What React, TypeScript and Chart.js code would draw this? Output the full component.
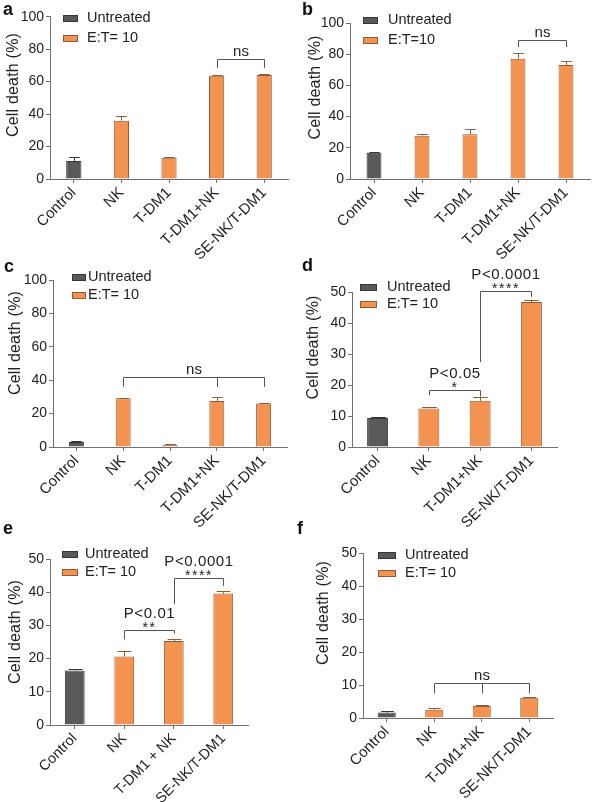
import React, { useEffect, useRef } from 'react';
import { Chart, registerables } from 'chart.js';

Chart.register(...registerables);

const FONT = "'Liberation Sans', Arial, Helvetica, sans-serif";
Chart.defaults.font.family = FONT;

// ---------- data ----------
const catsABC = ['Control', 'NK', 'T-DM1', 'T-DM1+NK', 'SE-NK/T-DM1'];
const catsD = ['Control', 'NK', 'T-DM1+NK', 'SE-NK/T-DM1'];
const catsE = ['Control', 'NK', 'T-DM1 + NK', 'SE-NK/T-DM1'];
const catsF = ['Control', 'NK', 'T-DM1+NK', 'SE-NK/T-DM1'];

const namesDefault = ['Untreated', 'E:T= 10'];
const namesB = ['Untreated', 'E:T=10'];
const yTitle = 'Cell death (%)';

const aUntreated = [11.1, null, null, null, null];
const aEffector = [null, 35.9, 13.1, 63.6, 64.1];
const aErr = [2.7, 3.1, 0.3, 0.2, 0.6];

const bUntreated = [16.8, null, null, null, null];
const bEffector = [null, 27.8, 28.7, 77.1, 73.0];
const bErr = [0.3, 1.1, 3.2, 3.6, 2.4];

const cUntreated = [3.0, null, null, null, null];
const cEffector = [null, 29.2, 1.2, 27.6, 26.0];
const cErr = [0.6, 0.4, 0.4, 2.4, 0.6];

const dUntreated = [9.35, null, null, null];
const dEffector = [null, 12.4, 14.9, 46.8];
const dErr = [0.2, 0.5, 1.1, 0.7];

const eUntreated = [16.4, null, null, null];
const eEffector = [null, 20.6, 25.3, 39.6];
const eErr = [0.5, 1.6, 0.7, 0.7];

const fUntreated = [1.7, null, null, null];
const fEffector = [null, 2.5, 3.6, 6.1];
const fErr = [0.3, 0.5, 0.2, 0.2];

const yMax100 = 100;
const yStep20 = 20;
const yMax50 = 50;
const yStep10 = 10;

type Bracket = { from: number; to: number; mids?: number[]; level: number; dropFrom: number; dropTo: number; labels: string[] };

const aBrackets: Bracket[] = [{ from: 3, to: 4, level: 73.7, dropFrom: 68.5, dropTo: 68.5, labels: ['ns'] }];
const bBrackets: Bracket[] = [{ from: 3, to: 4, level: 88.9, dropFrom: 84.6, dropTo: 84.6, labels: ['ns'] }];
const cBrackets: Bracket[] = [{ from: 1, to: 4, mids: [3], level: 42, dropFrom: 36, dropTo: 36, labels: ['ns'] }];
const dBrackets: Bracket[] = [
  { from: 1, to: 2, level: 18.5, dropFrom: 16.7, dropTo: 16.3, labels: ['*', 'P<0.05'] },
  { from: 2, to: 3, level: 50.2, dropFrom: 27.4, dropTo: 48.4, labels: ['****', 'P<0.0001'] },
];
const eBrackets: Bracket[] = [
  { from: 1, to: 2, level: 28.6, dropFrom: 25.8, dropTo: 27.5, labels: ['**', 'P<0.01'] },
  { from: 2, to: 3, level: 44.4, dropFrom: 36.4, dropTo: 41.9, labels: ['****', 'P<0.0001'] },
];
const fBrackets: Bracket[] = [{ from: 1, to: 3, mids: [2], level: 10.6, dropFrom: 7.4, dropTo: 7.4, labels: ['ns'] }];

// ---------- styles / layout ----------
const GRAY = '#58595b';
const GRAY_EDGE = '#363636';
const ORANGE = '#f4934f';
const ORANGE_EDGE = '#8a5c3e';
const AXIS = '#707070';
const TEXT = '#222222';

type PanelData = {
  cats: string[]; names: string[]; untreated: (number | null)[]; effector: (number | null)[];
  err: number[]; yMax: number; yStep: number; brackets: Bracket[];
};
type PanelLayout = {
  left: number; top: number; w: number; h: number;
  yWidth: number; padTop: number; padRight: number; xHeight: number; barPct: number; xFont: number;
  title: [number, number];
  legend: { x: number; y: number; gap: number; sw: number; textX: number };
  letter: string; letterX: number; letterBase: number;
};

const panels: { pd: PanelData; lay: PanelLayout }[] = [
  {
    pd: { cats: catsABC, names: namesDefault, untreated: aUntreated, effector: aEffector, err: aErr, yMax: yMax100, yStep: yStep20, brackets: aBrackets },
    lay: { left: 0, top: 0, w: 300, h: 300, yWidth: 50, padTop: 16.7, padRight: 12, xHeight: 121, barPct: 0.32, xFont: 15,
      title: [14, 85], legend: { x: 63, y: 18, gap: 20, sw: 15, textX: 87 }, letter: 'a', letterX: 3, letterBase: 15 },
  },
  {
    pd: { cats: catsABC, names: namesB, untreated: bUntreated, effector: bEffector, err: bErr, yMax: yMax100, yStep: yStep20, brackets: bBrackets },
    lay: { left: 300, top: 0, w: 300, h: 300, yWidth: 50, padTop: 23, padRight: 10, xHeight: 121, barPct: 0.31, xFont: 15,
      title: [15.5, 87.5], legend: { x: 63, y: 20, gap: 20, sw: 15, textX: 88 }, letter: 'b', letterX: 302, letterBase: 15 },
  },
  {
    pd: { cats: catsABC, names: namesDefault, untreated: cUntreated, effector: cEffector, err: cErr, yMax: yMax100, yStep: yStep20, brackets: cBrackets },
    lay: { left: 0, top: 255, w: 300, h: 290, yWidth: 53, padTop: 25, padRight: 13, xHeight: 98, barPct: 0.32, xFont: 15,
      title: [15.5, 88], legend: { x: 72, y: 22, gap: 18.3, sw: 14, textX: 88 }, letter: 'c', letterX: 4, letterBase: 272 },
  },
  {
    pd: { cats: catsD, names: namesDefault, untreated: dUntreated, effector: dEffector, err: dErr, yMax: yMax50, yStep: yStep10, brackets: dBrackets },
    lay: { left: 300, top: 255, w: 300, h: 290, yWidth: 52, padTop: 37, padRight: 43, xHeight: 98, barPct: 0.41, xFont: 15,
      title: [13.7, 92.5], legend: { x: 60, y: 32, gap: 17, sw: 17, textX: 87 }, letter: 'd', letterX: 302, letterBase: 271 },
  },
  {
    pd: { cats: catsE, names: namesDefault, untreated: eUntreated, effector: eEffector, err: eErr, yMax: yMax50, yStep: yStep10, brackets: eBrackets },
    lay: { left: 0, top: 520, w: 300, h: 282, yWidth: 50, padTop: 39, padRight: 52, xHeight: 77, barPct: 0.4, xFont: 14.5,
      title: [15.3, 112], legend: { x: 62, y: 34, gap: 18, sw: 16, textX: 85 }, letter: 'e', letterX: 3, letterBase: 534 },
  },
  {
    pd: { cats: catsF, names: namesDefault, untreated: fUntreated, effector: fEffector, err: fErr, yMax: yMax50, yStep: yStep10, brackets: fBrackets },
    lay: { left: 300, top: 520, w: 300, h: 282, yWidth: 63, padTop: 33, padRight: 47, xHeight: 84, barPct: 0.38, xFont: 15,
      title: [24, 93], legend: { x: 78, y: 35, gap: 18, sw: 18, textX: 105 }, letter: 'f', letterX: 297, letterBase: 534 },
  },
];

function setSpacing(ctx: any, v: string) {
  if ('letterSpacing' in ctx) ctx.letterSpacing = v;
}

function overlayPlugin(pd: PanelData, lay: PanelLayout) {
  return {
    id: 'overlay',
    afterDatasetsDraw(chart: any) {
      const ctx = chart.ctx as CanvasRenderingContext2D;
      const xs = chart.scales.x;
      const ys = chart.scales.y;
      ctx.save();
      ctx.lineWidth = 1;
      // error bars (upper only)
      chart.data.datasets.forEach((ds: any, di: number) => {
        const meta = chart.getDatasetMeta(di);
        meta.data.forEach((bar: any, j: number) => {
          const v = ds.data[j];
          if (v == null) return;
          const e = pd.err[j] || 0;
          const x = Math.round(bar.x) + 0.5;
          const yTop = Math.round(ys.getPixelForValue(v + e)) + 0.5;
          const yVal = ys.getPixelForValue(v);
          const half = (bar.width * 0.7) / 2;
          ctx.strokeStyle = ds.borderColor;
          ctx.beginPath();
          ctx.moveTo(x, yVal);
          ctx.lineTo(x, yTop);
          ctx.moveTo(x - half, yTop);
          ctx.lineTo(x + half, yTop);
          ctx.stroke();
        });
      });
      // significance brackets
      pd.brackets.forEach((b) => {
        const xa = Math.round(xs.getPixelForValue(b.from)) + 0.5;
        const xb = Math.round(xs.getPixelForValue(b.to)) + 0.5;
        const yl = Math.round(ys.getPixelForValue(b.level)) + 0.5;
        ctx.strokeStyle = '#555555';
        ctx.beginPath();
        ctx.moveTo(xa, ys.getPixelForValue(b.dropFrom));
        ctx.lineTo(xa, yl);
        ctx.lineTo(xb, yl);
        ctx.lineTo(xb, ys.getPixelForValue(b.dropTo));
        (b.mids || []).forEach((m) => {
          const xm = Math.round(xs.getPixelForValue(m)) + 0.5;
          ctx.moveTo(xm, yl);
          ctx.lineTo(xm, ys.getPixelForValue(b.dropFrom));
        });
        ctx.stroke();
        const cx = (xa + xb) / 2;
        ctx.fillStyle = TEXT;
        ctx.textAlign = 'center';
        ctx.textBaseline = 'alphabetic';
        b.labels.forEach((lbl) => {
          if (/^\*+$/.test(lbl)) {
            ctx.font = `14px ${FONT}`;
            setSpacing(ctx, '1.5px');
            ctx.fillText(lbl, cx, yl + 1.5);
          } else if (lbl === 'ns') {
            ctx.font = `15px ${FONT}`;
            setSpacing(ctx, '0px');
            ctx.fillText(lbl, cx, yl - 4);
          } else {
            ctx.font = `15px ${FONT}`;
            setSpacing(ctx, '0.6px');
            ctx.fillText(lbl, cx, yl - 12.5);
          }
        });
      });
      setSpacing(ctx, '0px');
      // legend
      const L = lay.legend;
      chart.data.datasets.forEach((ds: any, i: number) => {
        const ry = L.y + i * L.gap;
        ctx.fillStyle = ds.backgroundColor;
        ctx.fillRect(L.x, Math.round(ry - 3.5), L.sw, 7);
        ctx.strokeStyle = ds.borderColor;
        ctx.strokeRect(L.x + 0.5, Math.round(ry - 3.5) + 0.5, L.sw - 1, 6);
        ctx.fillStyle = TEXT;
        ctx.font = `14.5px ${FONT}`;
        ctx.textAlign = 'left';
        ctx.textBaseline = 'middle';
        ctx.fillText(ds.label, L.textX, ry);
      });
      // y axis title
      ctx.save();
      ctx.translate(lay.title[0], lay.title[1]);
      ctx.rotate(-Math.PI / 2);
      ctx.fillStyle = TEXT;
      ctx.font = `16px ${FONT}`;
      setSpacing(ctx, '0.2px');
      ctx.textAlign = 'center';
      ctx.textBaseline = 'middle';
      ctx.fillText(yTitle, 0, 0);
      ctx.restore();
      ctx.restore();
    },
  };
}

function Panel({ pd, lay }: { pd: PanelData; lay: PanelLayout }) {
  const ref = useRef<HTMLCanvasElement>(null);
  useEffect(() => {
    const axisGrid = { display: true, drawOnChartArea: false, drawTicks: true, tickLength: 4, color: AXIS, lineWidth: 1, offset: false };
    const chart = new Chart(ref.current as HTMLCanvasElement, {
      type: 'bar',
      data: {
        labels: pd.cats,
        datasets: [
          { label: pd.names[0], data: pd.untreated, backgroundColor: GRAY, borderColor: GRAY_EDGE, borderWidth: 1,
            grouped: false, categoryPercentage: 1, barPercentage: lay.barPct } as any,
          { label: pd.names[1], data: pd.effector, backgroundColor: ORANGE, borderColor: ORANGE_EDGE, borderWidth: 1,
            grouped: false, categoryPercentage: 1, barPercentage: lay.barPct } as any,
        ],
      },
      options: {
        responsive: false,
        animation: false,
        devicePixelRatio: 1,
        layout: { padding: { left: 0, top: lay.padTop, right: lay.padRight, bottom: 0 } },
        plugins: { legend: { display: false }, tooltip: { enabled: false } },
        scales: {
          x: {
            grid: axisGrid,
            border: { display: true, color: AXIS, width: 1 },
            ticks: { autoSkip: false, minRotation: 45, maxRotation: 45, font: { size: lay.xFont, family: FONT }, color: TEXT, padding: 1 },
            afterFit: (s: any) => { s.height = lay.xHeight; },
          },
          y: {
            min: 0,
            max: pd.yMax,
            grid: axisGrid,
            border: { display: true, color: AXIS, width: 1 },
            ticks: { stepSize: pd.yStep, font: { size: 14, family: FONT }, color: TEXT, padding: 2 },
            afterFit: (s: any) => { s.width = lay.yWidth; },
          },
        },
      } as any,
      plugins: [overlayPlugin(pd, lay)],
    });
    return () => chart.destroy();
  }, []);
  return (
    <canvas
      ref={ref}
      width={lay.w}
      height={lay.h}
      style={{ position: 'absolute', left: lay.left, top: lay.top, width: lay.w, height: lay.h }}
    />
  );
}

export default function App() {
  return (
    <div style={{ position: 'absolute', left: 0, top: 0, width: 600, height: 802, background: '#ffffff', overflow: 'hidden' }}>
      {panels.map((p, i) => (
        <Panel key={i} pd={p.pd} lay={p.lay} />
      ))}
      {panels.map((p, i) => (
        <span
          key={'l' + i}
          style={{
            position: 'absolute', left: p.lay.letterX, top: p.lay.letterBase - 15.2,
            font: `bold 18px ${FONT}`, lineHeight: 1, color: '#111',
          }}
        >
          {p.lay.letter}
        </span>
      ))}
    </div>
  );
}
